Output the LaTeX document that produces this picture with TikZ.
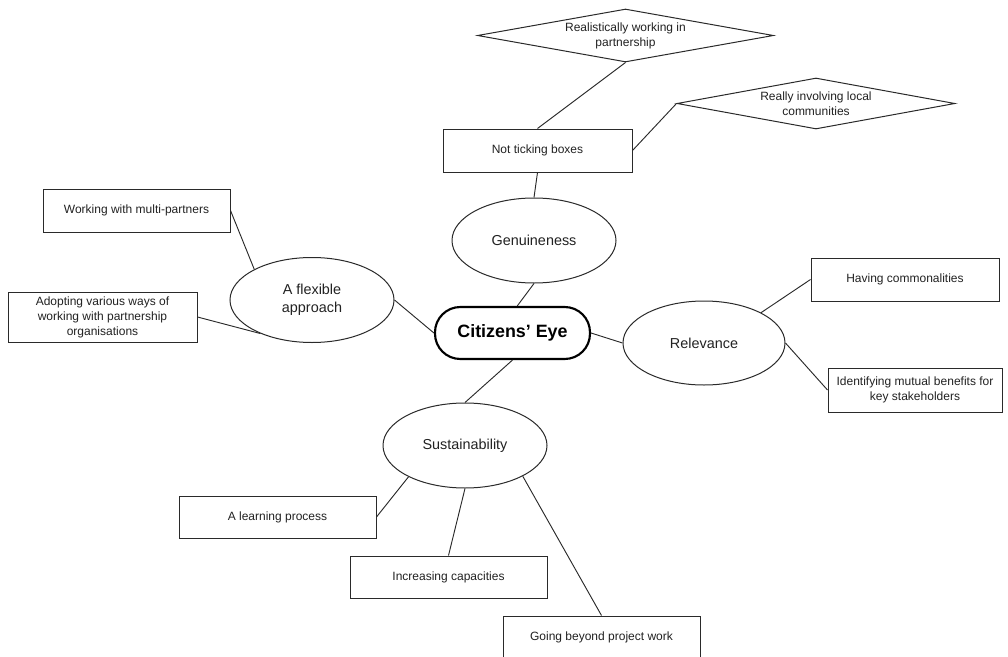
\documentclass[tikz,border=0pt]{standalone}
\usepackage{fontspec}
\setmainfont{Liberation Sans}
\usepackage{tikz}
\usetikzlibrary{shapes.geometric}
\definecolor{inkGrey}{HTML}{222222}
\definecolor{edgeGrey}{HTML}{2A2A2A}
\tikzset{
  leafbox/.style={rectangle, draw=edgeGrey, fill=white, line width=0.75pt, align=center, text=inkGrey, font=\fontsize{9}{11.25}\selectfont, minimum width=147.75pt, minimum height=31.5pt, inner sep=2pt},
  themeell/.style={ellipse, draw=edgeGrey, fill=white, line width=0.75pt, align=center, text=inkGrey, font=\fontsize{10.8}{13.5}\selectfont, minimum width=123pt, minimum height=63.75pt, inner sep=1pt},
  corebox/.style={rectangle, rounded corners=19pt, draw=black, fill=white, line width=1.6pt, font=\fontsize{13.4}{16}\selectfont\bfseries, text=black, minimum width=116.25pt, minimum height=39pt, inner sep=2pt},
  ideadiamond/.style={diamond, draw=edgeGrey, fill=white, line width=0.75pt, align=center, text=inkGrey, font=\fontsize{9}{11.25}\selectfont, inner sep=0pt},
  linkline/.style={draw=edgeGrey, line width=0.7pt},
}
\begin{document}
\begin{tikzpicture}[x=0.75pt,y=-0.75pt]
  \useasboundingbox (0,0) rectangle (1008,657);

  \node[corebox] (eye) at (512.5,333) {Citizens’ Eye};

  % --- the four themes ---
  \node[themeell] (genuine) at (534,240.5) {Genuineness};
  \node[themeell] (flex) at (312,300) {A flexible \\ approach};
  \node[themeell, minimum width=121.5pt, minimum height=63pt] (rel) at (704,343) {Relevance};
  \node[themeell] (sus) at (465,445.5) {Sustainability};

  % --- genuineness branch ---
  \node[leafbox, minimum width=141.75pt, minimum height=32.25pt] (ticking) at (537.5,150.5) {Not ticking boxes};
  \node[ideadiamond, aspect=5.58, minimum width=222pt, minimum height=39.75pt] (partner) at (625.5,35.5) {Realistically working in \\ partnership};
  \node[ideadiamond, aspect=5.45, minimum width=208.5pt, minimum height=38.25pt] (local) at (816,103.5) {Really involving local \\ communities};

  % --- flexible approach branch ---
  \node[leafbox, minimum width=140.25pt, minimum height=32.25pt] (work) at (136.5,210.5) {Working with multi-partners};
  \node[leafbox, minimum width=141.75pt, minimum height=37.5pt] (adopt) at (102.5,317) {Adopting various ways of \\ working with partnership \\ organisations};

  % --- relevance branch ---
  \node[leafbox, minimum width=141pt, minimum height=32.25pt] (have) at (905,279.5) {Having commonalities};
  \node[leafbox, minimum width=130.5pt, minimum height=33pt] (ident) at (915,390) {Identifying mutual benefits for \\ key stakeholders};

  % --- sustainability branch ---
  \node[leafbox] (learn) at (277.5,517) {A learning process};
  \node[leafbox] (incr) at (448.5,577) {Increasing capacities};
  \node[leafbox] (going) at (601.5,637) {Going beyond project work};

  \draw[linkline] (genuine.south) -- (eye.80);
  \draw[linkline] (flex.east) -- (eye.west);
  \draw[linkline] (eye.east) -- (rel.west);
  \draw[linkline] (eye.south) -- (sus.north);

  \draw[linkline] (ticking.south) -- (genuine.north);
  \draw[linkline] (partner.south) -- (ticking.north);
  \draw[linkline] (local.west) -- (ticking.east);

  \draw[linkline] (flex.152) -- (work.east);
  \draw[linkline] (flex.213) -- (adopt.east);

  \draw[linkline] (rel.28) -- (have.west);
  \draw[linkline] (rel.east) -- (ident.west);

  \foreach \a/\c in {209/learn.east, south/incr.north, -28/going.north} { \draw[linkline] (sus.\a) -- (\c); }
\end{tikzpicture}
\end{document}
